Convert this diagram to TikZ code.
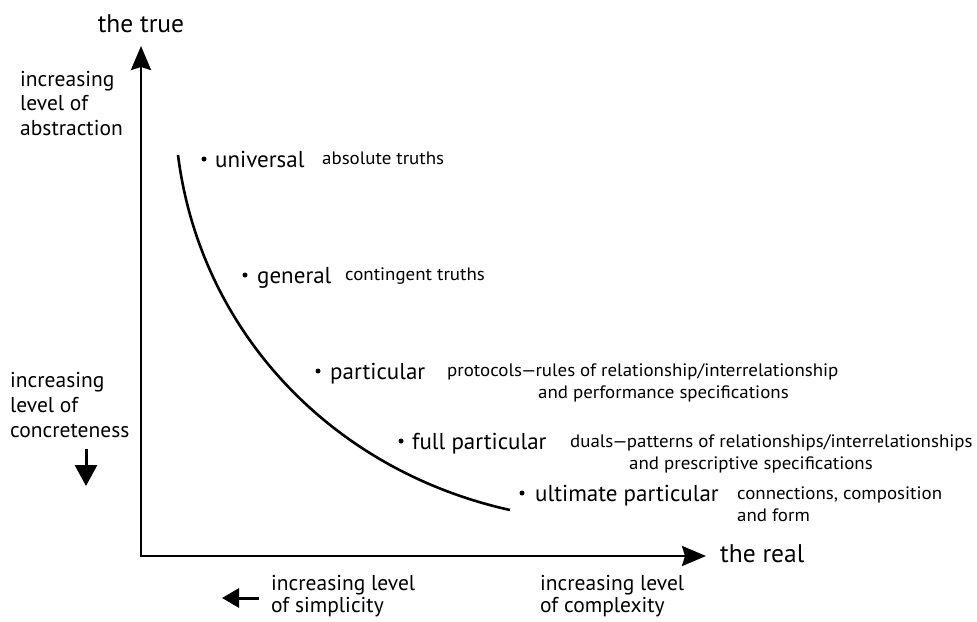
\documentclass[tikz,border=0pt]{standalone}
\usepackage{fontspec}
\setmainfont{PT Sans}
\newfontfamily\notefont[FakeStretch=1.05]{PT Sans}
\usetikzlibrary{arrows.meta}
\begin{document}
\begin{tikzpicture}[x=1pt,y=-1pt,
  big/.style={font=\fontsize{23}{27}\selectfont, inner sep=0pt, anchor=base west},
  axlbl/.style={font=\fontsize{25.5}{29}\selectfont, inner sep=0pt, anchor=base west},
  lbl/.style={font=\fontsize{21.5}{25}\selectfont, inner sep=0pt, anchor=base west},
  note/.style={font=\notefont\fontsize{18}{21}\selectfont, inner sep=0pt, anchor=base west},
  axis/.style={line width=2.6pt, -{Stealth[length=24pt,width=20pt,inset=3pt]}},
  dot/.style={circle, fill=black, inner sep=0pt, minimum size=5pt},
  curve/.style={line width=2.6pt}]
\useasboundingbox (0,0) rectangle (977,621);
% axes
\coordinate (O) at (141,556);
\coordinate (T) at (141,46);
\coordinate (R) at (706,556);
\draw[axis] (O) -- (T);
\draw[axis] ([xshift=-1.3pt]O) -- (R);
\node[axlbl, anchor=base] (true) at (141,32) {the true};
\node[axlbl] (real) at (720,562) {the real};
% left labels
\node[lbl] (a1) at (20,86) {increasing};
\node[lbl] (a2) at (20,110) {level of};
\node[lbl] (a3) at (20,135) {abstraction};
\node[lbl] (c1) at (10,387) {increasing};
\node[lbl] (c2) at (10,412) {level of};
\node[lbl] (c3) at (10,437) {concreteness};
\coordinate (d1) at (86,449);
\coordinate (d2) at (86,486);
\draw[line width=3pt, -{Triangle[length=21pt,width=22pt]}] (d1) -- (d2);
% bottom labels
\node[lbl] (s1) at (271,590) {increasing level};
\node[lbl] (s2) at (271,612) {of simplicity};
\node[lbl] (x1) at (540,590) {increasing level};
\node[lbl] (x2) at (540,612) {of complexity};
\coordinate (l1) at (259,598);
\coordinate (l2) at (222,598);
\draw[line width=3pt, -{Triangle[length=17pt,width=19pt]}] (l1) -- (l2);
% curve
\coordinate (cs) at (178,155);
\coordinate (ce) at (510,510);
\draw[curve] (cs) .. controls (200,330) and (330,470) .. (ce);
% items
\node[dot] (ud) at (204,159) {};
\node[big] (u) at (215,167) {universal};
\node[note] (un) at (322,164) {absolute truths};
\node[dot] (gd) at (245,275) {};
\node[big] (g) at (257,283) {general};
\node[note] (gn) at (345,280) {contingent truths};
\node[dot] (pd) at (318,371) {};
\node[big] (p) at (330,379) {particular};
\node[note] (pn1) at (447,376) {protocols\kern-1pt—\kern-1pt rules of relationship/interrelationship};
\node[note] (pn2) at (538,398) {and performance specifications};
\node[dot] (fd) at (401,441) {};
\node[big] (f) at (412,449) {full particular};
\node[note] (fn1) at (570,447) {duals\kern-1pt—\kern-1pt patterns of relationships/interrelationships};
\node[note] (fn2) at (629,469) {and prescriptive specifications};
\node[dot] (md) at (522,493) {};
\node[big] (m) at (535,501) {ultimate particular};
\node[note] (mn1) at (737,499) {connections, composition};
\node[note] (mn2) at (737,521) {and form};
\end{tikzpicture}
\end{document}
